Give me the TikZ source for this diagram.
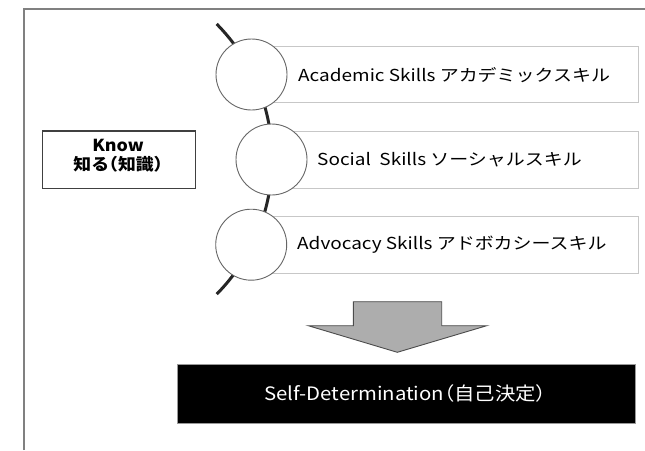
\documentclass[tikz,border=0pt]{standalone}
\usepackage{fontspec}
\usepackage{graphicx}
\setmainfont{Noto Sans CJK JP}
\newcommand{\widetext}[2][1.15]{\scalebox{#1}[1]{#2}}
\newcommand{\halfparen}{\addfontfeature{RawFeature=+halt}}
\begin{document}
\begin{tikzpicture}[x=1pt,y=-1pt,
  frameline/.style={draw=black!50,line width=1.3pt},
  skillbox/.style={draw=black!22,fill=white,line width=1pt},
  bead/.style={draw=black!60,fill=white,line width=0.9pt,circle,minimum size=71pt,inner sep=0pt},
  spine/.style={draw=black!85,line width=3pt},
  skilltext/.style={anchor=west,font=\fontsize{16.5}{18}\selectfont,inner sep=0pt},
  knowbox/.style={draw=black!75,line width=1.1pt,fill=white},
  arrowshape/.style={draw=black!70,fill=black!32,line width=0.9pt},
  goalbox/.style={fill=black,draw=black!40,line width=0.8pt}]
\useasboundingbox (0,0) rectangle (645,450);
% frame
\coordinate (fb) at (24,450);
\coordinate (ftl) at (24,9);
\coordinate (ftr) at (645,9);
\draw[frameline] (fb) -- (ftl) -- (ftr);
% spine
\coordinate (sp) at (216.7,24);
\draw[spine] (sp) arc[start angle=-44.6,end angle=44.6,radius=192.4];
% skill boxes
\draw[skillbox] (262,46.7) rectangle (638.7,102.7);
\draw[skillbox] (282,131.7) rectangle (638.7,188.3);
\draw[skillbox] (262,216.7) rectangle (638.7,273.3);
% beads
\node[bead] (c1) at (251.5,74.5) {};
\node[bead] (c2) at (271.5,159.5) {};
\node[bead] (c3) at (251.2,244.7) {};
% texts
\node[skilltext] (t1) at (298,75) {\widetext{Academic Skills アカデミックスキル}};
\node[skilltext] (t2) at (317,160) {\widetext{Social\ \ Skills ソーシャルスキル}};
\node[skilltext] (t3) at (297,245) {\widetext{Advocacy Skills アドボカシースキル}};
% know box
\draw[knowbox] (42.3,131) rectangle (195.7,188.3);
\node[align=center,font=\fontsize{16.5}{19}\selectfont\bfseries\halfparen,inner sep=0pt] (know) at (118,156) {\widetext[1.08]{Know}\\\widetext[1.08]{知る（知識）}};
% arrow
\draw[arrowshape] (353.3,301.7) -- (441.7,301.7) -- (441.7,325.7) -- (486.7,325.7) -- (397.3,352.3) -- (308.3,325.7) -- (353.3,325.7) -- cycle;
% goal
\draw[goalbox] (177.7,364) rectangle (635,423.3);
\node[text=white,font=\fontsize{18.5}{20}\selectfont\halfparen,inner sep=0pt] (goal) at (405,393.7) {\widetext[1.1]{Self-Determination（自己決定）}};
\end{tikzpicture}
\end{document}
